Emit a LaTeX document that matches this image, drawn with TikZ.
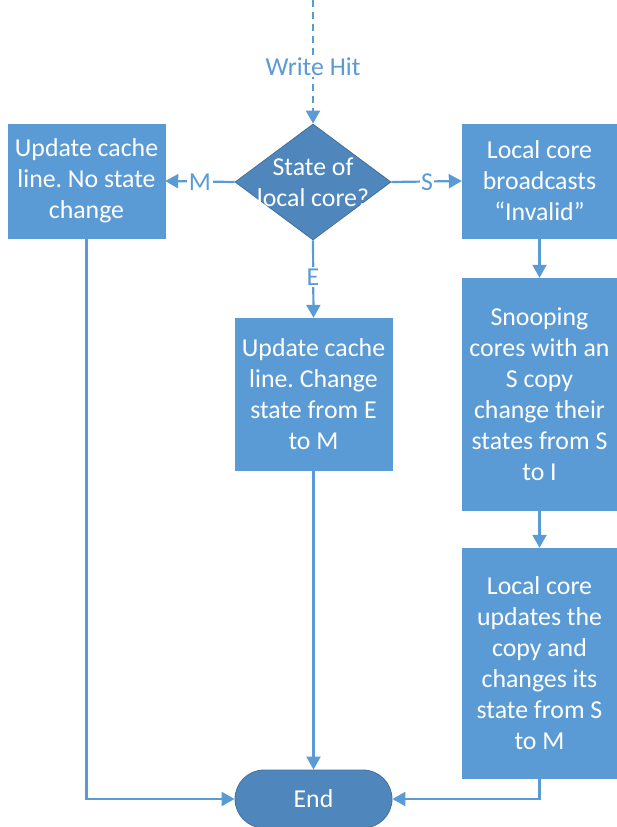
\documentclass[tikz,border=0pt]{standalone}
\usepackage{fontspec}
\setmainfont{Carlito}
\usetikzlibrary{arrows.meta,shapes.geometric}
\definecolor{boxblue}{RGB}{91,155,213}
\definecolor{darkblue}{RGB}{79,135,188}
\definecolor{edgeblue}{RGB}{65,113,156}
\frenchspacing
\begin{document}
\begin{tikzpicture}[x=1pt,y=-1pt,
  font=\fontsize{25.8}{31}\selectfont,
  procbox/.style={fill=boxblue, draw=boxblue, text=white, align=center, inner sep=0pt},
  termbox/.style={fill=darkblue, draw=edgeblue, line width=0.8pt, text=white, align=center, inner sep=0pt},
  conn/.style={draw=boxblue, line width=2.2pt, -{Triangle[width=14pt,length=13pt]}},
  lbl/.style={fill=white, text=boxblue, inner sep=1.5pt}]
\useasboundingbox (0,0) rectangle (616,827);

% nodes
\node[procbox, minimum width=157pt, minimum height=114pt] (m) at (86.5,181) {Update cache\\line. No state\\change};
\node[termbox, diamond, minimum width=156pt, minimum height=116pt] (dia) at (313,182) {};
\node[text=white, align=center, inner sep=0pt] (diatext) at (dia.center) {State of\\local core?};
\node[procbox, minimum width=155pt, minimum height=114pt] (r1) at (539.5,181) {Local core\\broadcasts\\“Invalid”};
\node[procbox, minimum width=155pt, minimum height=232pt] (r2) at (539.5,394) {Snooping\\cores with an\\S copy\\change their\\states from S\\to I};
\node[procbox, minimum width=155pt, minimum height=230pt] (r3) at (539.5,663) {Local core\\updates the\\copy and\\changes its\\state from S\\to M};
\node[procbox, minimum width=157pt, minimum height=152pt] (e) at (313.5,394) {Update cache\\line. Change\\state from E\\to M};
\node[termbox, rounded corners=29pt, minimum width=157pt, minimum height=58pt] (end) at (313.5,799) {End};

% connectors
\coordinate (start) at (313,0);
\draw[conn, dash pattern=on 7pt off 5pt] (start) -- (dia.north);
\node[lbl] (wh) at (313,67) {Write Hit};
\draw[conn] (dia.west) -- (m.east);
\node[lbl] (lm) at (200,182) {M};
\draw[conn] (dia.east) -- (r1.west);
\node[lbl] (ls) at (427,182) {S};
\draw[conn] (dia.south) -- (e.north);
\node[lbl] (le) at (313,277) {E};
\draw[conn] (r1.south) -- (r2.north);
\draw[conn] (r2.south) -- (r3.north);
\draw[conn] (e.south) -- (end.north);
\draw[conn] (m.south) |- (end.west);
\draw[conn] (r3.south) |- (end.east);
\end{tikzpicture}
\end{document}
